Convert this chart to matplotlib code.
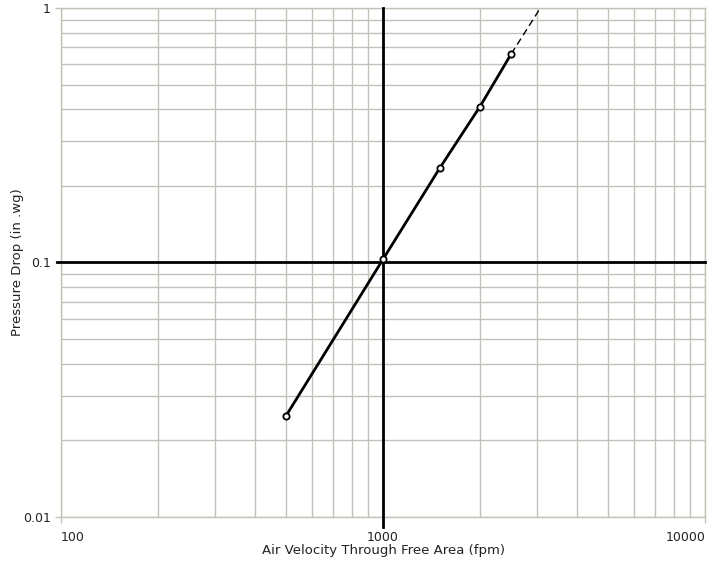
import matplotlib
matplotlib.use("Agg")
import matplotlib.pyplot as plt
from matplotlib.ticker import LogLocator, NullFormatter, FixedLocator, FixedFormatter

# measured points (fpm, in. wg)
velocity = [500, 1000, 1500, 2000, 2500]
pressure = [0.025, 0.103, 0.235, 0.41, 0.66]
# dashed extrapolation beyond last point
ext_velocity = [2500, 3080]
ext_pressure = [0.66, 1.0]

x_ticks = [100, 1000, 10000]
x_labels = ["100", "1000", "10000"]
y_ticks = [0.01, 0.1, 1]
y_labels = ["0.01", "0.1", "1"]

grid_col = "#c2c2b8"

fig = plt.figure(figsize=(7.27, 5.70), dpi=100)
ax = fig.add_axes([0.0839, 0.093, 0.886, 0.893])
ax.set_xscale("log")
ax.set_yscale("log")
ax.set_xlim(100, 10000)
ax.set_ylim(0.01, 1)

ax.xaxis.set_major_locator(FixedLocator(x_ticks))
ax.xaxis.set_major_formatter(FixedFormatter(x_labels))
ax.yaxis.set_major_locator(FixedLocator(y_ticks))
ax.yaxis.set_major_formatter(FixedFormatter(y_labels))
ax.xaxis.set_minor_locator(LogLocator(base=10, subs=range(2, 10)))
ax.yaxis.set_minor_locator(LogLocator(base=10, subs=range(2, 10)))
ax.xaxis.set_minor_formatter(NullFormatter())
ax.yaxis.set_minor_formatter(NullFormatter())

ax.grid(True, which="both", color=grid_col, lw=1)
ax.tick_params(which="major", color=grid_col, length=4, width=1, labelsize=9, colors="#222222")
ax.tick_params(axis="x", which="major", pad=6)
ax.tick_params(which="minor", length=0)
for s in ax.spines.values():
    s.set_color(grid_col)
    s.set_linewidth(1)

# edge labels align inside the range
xl = ax.get_xticklabels()
xl[0].set_ha("left")
xl[-1].set_ha("right")

# heavy reference lines at 1000 fpm and 0.1 in. wg
ax.axvline(1000, ymin=-0.02, ymax=1.0, color="black", lw=2, clip_on=False, zorder=3)
ax.axhline(0.1, xmin=-0.006, xmax=1.0, color="black", lw=2, clip_on=False, zorder=3)

ax.plot(ext_velocity, ext_pressure, color="black", lw=1, ls=(0, (5, 3)), zorder=4)
ax.plot(velocity, pressure, color="black", lw=2, marker="o", ms=4.5,
        mfc="white", mec="black", mew=1.3, zorder=5)

ax.set_xlabel("Air Velocity Through Free Area (fpm)", fontsize=9.5, color="#222222", labelpad=0)
ax.set_ylabel("Pressure Drop (in .wg)", fontsize=9.5, color="#222222", labelpad=-1)

fig.savefig("out.png", dpi=100)
